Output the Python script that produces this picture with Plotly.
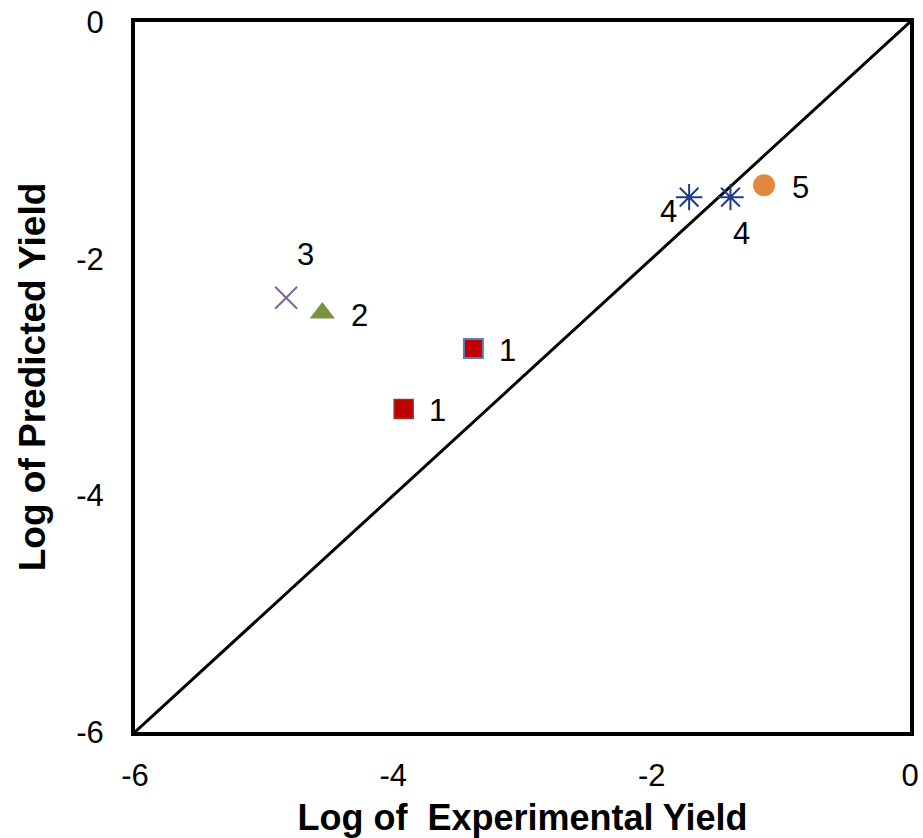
import plotly.graph_objects as go

# Log yields for each catalyst system
labels = ["1", "1", "2", "3", "4", "4", "5"]
log_experimental = [-3.92, -3.38, -4.55, -4.83, -1.71, -1.39, -1.13]
log_predicted = [-3.27, -2.76, -2.46, -2.33, -1.48, -1.48, -1.38]

x_ticks = [-6, -4, -2, 0]
y_ticks = [-6, -4, -2, 0]

# marker styling per point
symbols = ["square", "square", "triangle-up", "x-thin-open", "asterisk-open", "asterisk-open", "circle"]
fills = ["#C00000", "#C00000", "#77933C", "#8064A2", "#1F3C88", "#1F3C88", "#E2873B"]
edges = ["#A0302E", "#4F81BD", "#77933C", "#8064A2", "#1F3C88", "#1F3C88", "#E2873B"]
edge_w = [1.5, 2, 0, 2, 2, 2, 0]
sizes = [19, 19, 22, 22, 22, 22, 22]
# label offsets in pixels (right, up)
label_dx = [34, 34, 37, 19, -21, 11, 36]
label_dy = [-2, -2, -2, 43, -14, -36, -2]

font = "Liberation Sans, Arial, sans-serif"

fig = go.Figure()

# 1:1 reference line
fig.add_trace(go.Scatter(
    x=[x_ticks[0], x_ticks[-1]], y=[y_ticks[0], y_ticks[-1]],
    mode="lines", line=dict(color="black", width=3),
    showlegend=False, hoverinfo="skip"))

for i in range(len(labels)):
    fig.add_trace(go.Scatter(
        x=[log_experimental[i]], y=[log_predicted[i]], mode="markers",
        marker=dict(symbol=symbols[i], size=sizes[i], color=fills[i],
                    line=dict(color=edges[i], width=edge_w[i])),
        showlegend=False))
    fig.add_annotation(
        x=log_experimental[i], y=log_predicted[i], text=labels[i],
        showarrow=False, xshift=label_dx[i], yshift=label_dy[i],
        font=dict(family=font, size=31, color="black"))

axis_common = dict(
    showline=True, linecolor="black", linewidth=4, mirror=True,
    showgrid=False, zeroline=False, ticks="", automargin=False,
    tickfont=dict(family=font, size=31, color="black"),
)

fig.update_xaxes(range=[-6, 0], tickvals=x_ticks, ticktext=[str(v) for v in x_ticks],
                 ticklabelstandoff=13,
                 title=dict(text="<b>Log of  Experimental Yield</b>", standoff=14,
                            font=dict(family=font, size=36, color="black")),
                 **axis_common)
fig.update_yaxes(range=[-6, 0], tickvals=y_ticks, ticktext=[str(v) for v in y_ticks],
                 ticklabelstandoff=21,
                 title=dict(text="<b>Log of Predicted Yield</b>", standoff=20,
                            font=dict(family=font, size=37, color="black")),
                 **axis_common)

fig.update_layout(
    width=923, height=838,
    margin=dict(l=135, r=13, t=22, b=106),
    plot_bgcolor="white", paper_bgcolor="white",
)

fig.write_html("out.html")
